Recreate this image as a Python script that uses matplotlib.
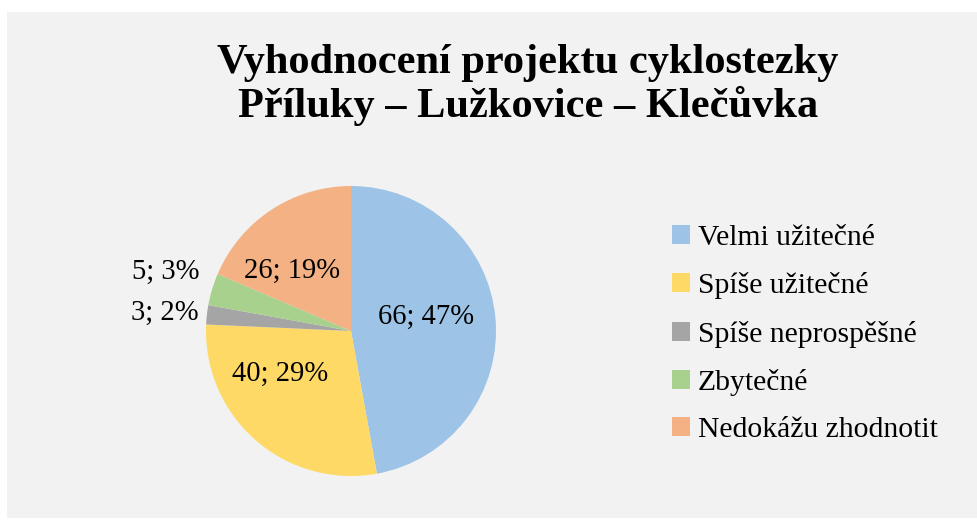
import numpy as np
import matplotlib
matplotlib.use('Agg')
from matplotlib import pyplot as plt
from matplotlib.patches import Rectangle, Patch

plt.rcParams['font.family'] = ['Liberation Serif', 'DejaVu Serif']

# data
categories = ['Velmi užitečné', 'Spíše užitečné', 'Spíše neprospěšné',
              'Zbytečné', 'Nedokážu zhodnotit']
counts = [66, 40, 3, 5, 26]
percents = [47, 29, 2, 3, 19]
colors = ['#9dc3e6', '#ffd966', '#a5a5a5', '#a9d18e', '#f4b183']
title = 'Vyhodnocení projektu cyklostezky\nPříluky – Lužkovice – Klečůvka'

# label placement (radius as fraction of pie radius, angle shift in degrees)
label_r = [0.526, 0.57, 1.29, 1.34, 0.58]
label_shift = [5.5, -18, 1, -1, 11]

W, H = 977, 521
fig = plt.figure(figsize=(W / 100, H / 100), dpi=100)
fig.patch.set_facecolor('white')
fig.patches.append(Rectangle((7 / W, 0.006), 1 - 7 / W, 1 - 12 / H - 0.006,
                             transform=fig.transFigure, facecolor='#f2f2f2',
                             edgecolor='none', zorder=-10))

fig.text(528 / W, 1 - 85 / H, title, ha='center', va='center',
         fontsize=30.5, fontweight='bold', linespacing=1.13)

# pie axes: centre (351, 331) px, radius 145 px
cx, cy, r = 351, 331, 145
ax = fig.add_axes([(cx - r) / W, 1 - (cy + r) / H, 2 * r / W, 2 * r / H])
ax.set_facecolor('none')
ax.set_zorder(1)
wedges, _ = ax.pie(counts, colors=colors, startangle=90, counterclock=False,
                   radius=1, wedgeprops=dict(edgecolor='none'))
ax.set_xlim(-1, 1)
ax.set_ylim(-1, 1)
ax.set_aspect('equal')
ax.axis('off')

for i, w in enumerate(wedges):
    ang = np.deg2rad((w.theta1 + w.theta2) / 2 + label_shift[i])
    ax.text(label_r[i] * np.cos(ang), label_r[i] * np.sin(ang),
            '%d; %d%%' % (counts[i], percents[i]), ha='center', va='center',
            fontsize=20.6, color='black', clip_on=False)

handles = [Patch(facecolor=c, edgecolor='none') for c in colors]
fig.legend(handles, categories, loc='center left',
           bbox_to_anchor=(672 / W, 1 - 334 / H), frameon=False,
           fontsize=21.3, handlelength=0.62, handleheight=0.62,
           handletextpad=0.25, labelspacing=0.72, borderpad=0,
           borderaxespad=0)

fig.savefig('out.png', dpi=100, facecolor=fig.get_facecolor())
